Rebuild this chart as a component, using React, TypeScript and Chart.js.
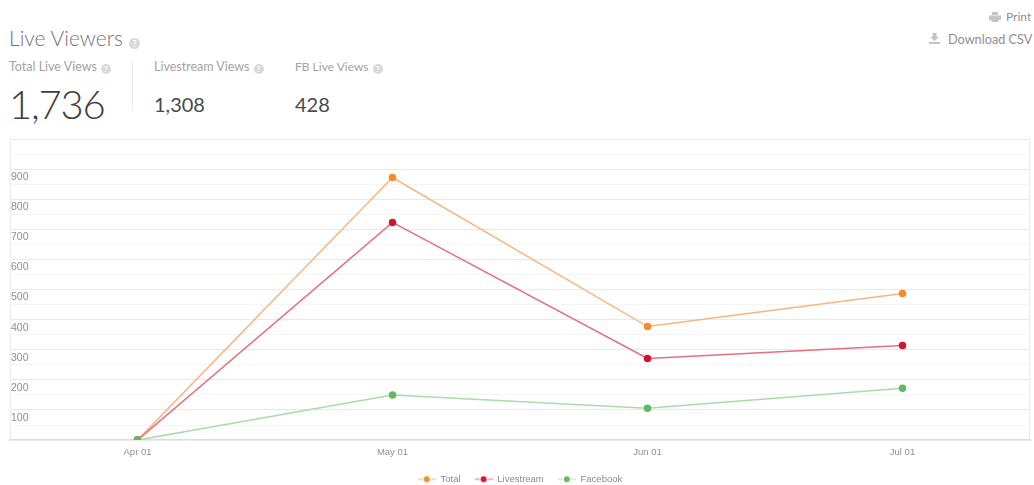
import React, { useEffect, useRef } from "react";
import { Chart, registerables } from "chart.js";

Chart.register(...registerables);

const categories = ["Apr 01", "May 01", "Jun 01", "Jul 01"];
const totalValues = [0, 872, 377, 487];
const livestreamValues = [0, 723, 271, 314];
const facebookValues = [0, 150, 106, 172];
const seriesNames = ["Total", "Livestream", "Facebook"];
const dotColors = ["#f68b2c", "#d2142e", "#62bb62"];
const lineColors = ["#f8b67e", "#e66f7e", "#aadcaa"];

function legendIcon(line: string, dot: string) {
  const c = document.createElement("canvas");
  c.width = 18;
  c.height = 8;
  const x = c.getContext("2d")!;
  x.strokeStyle = line;
  x.lineWidth = 1;
  x.beginPath();
  x.moveTo(0, 4);
  x.lineTo(5, 4);
  x.moveTo(13, 4);
  x.lineTo(18, 4);
  x.stroke();
  x.fillStyle = dot;
  x.beginPath();
  x.arc(9, 4, 3, 0, Math.PI * 2);
  x.fill();
  return c;
}

const plotFrame = {
  id: "plotFrame",
  beforeDatasetsDraw(chart: any) {
    const { left, top, width, height } = chart.chartArea;
    const ctx = chart.ctx;
    ctx.save();
    ctx.strokeStyle = "#ececec";
    ctx.lineWidth = 1;
    ctx.strokeRect(left + 0.5, top + 0.5, width - 1, height);
    ctx.restore();
  },
};

function Help({ size = 10, gap = 4 }: { size?: number; gap?: number }) {
  return (
    <span
      style={{
        display: "inline-block",
        width: size,
        height: size,
        lineHeight: size + "px",
        borderRadius: "50%",
        background: "#d9d9d9",
        color: "#fff",
        fontSize: size - 2,
        fontWeight: 700,
        textAlign: "center",
        marginLeft: gap,
        verticalAlign: "-1px",
      }}
    >
      ?
    </span>
  );
}

const textStyle = (left: number, top: number, size: number, color: string, weight = 400): React.CSSProperties => ({
  position: "absolute",
  left,
  top,
  fontSize: size,
  lineHeight: size + 4 + "px",
  color,
  fontWeight: weight,
  whiteSpace: "nowrap",
});

export default function App() {
  const ref = useRef<HTMLCanvasElement>(null);
  useEffect(() => {
    const series = [totalValues, livestreamValues, facebookValues];
    const chart = new Chart(ref.current!, {
      type: "line",
      data: {
        labels: categories,
        datasets: series.map((data, i) => ({
          label: seriesNames[i],
          data,
          borderColor: lineColors[i],
          backgroundColor: dotColors[i],
          pointBackgroundColor: dotColors[i],
          pointBorderColor: dotColors[i],
          pointRadius: 3,
          borderWidth: 1.5,
          tension: 0,
          fill: false,
          order: 2 - i,
        })),
      },
      options: {
        animation: false,
        responsive: false,
        maintainAspectRatio: false,
        layout: { padding: { left: 10, right: 6, top: 9, bottom: 0 } },
        plugins: {
          tooltip: { enabled: false },
          legend: {
            position: "bottom",
            labels: {
              usePointStyle: true,
              pointStyleWidth: 18,
              boxHeight: 8,
              padding: 14,
              color: "#8a8a8a",
              font: { family: "'Liberation Sans', Arial, sans-serif", size: 9.5 },
              generateLabels: () =>
                seriesNames.map((text, i) => ({
                  text,
                  datasetIndex: i,
                  pointStyle: legendIcon(lineColors[i], dotColors[i]),
                  fontColor: "#8a8a8a",
                  fillStyle: dotColors[i],
                  strokeStyle: dotColors[i],
                  lineWidth: 0,
                })),
            },
          },
        },
        scales: {
          x: {
            offset: true,
            grid: { display: false },
            border: { color: "#dcdcdc", width: 2 },
            afterFit: (s: any) => {
              s.height += 3;
            },
            ticks: {
              color: "#8f8f8f",
              padding: -1,
              maxRotation: 0,
              font: { family: "'Liberation Sans', Arial, sans-serif", size: 9.5 },
            },
          },
          y: {
            min: 0,
            max: 1000,
            border: { display: false },
            grid: {
              drawTicks: false,
              color: (c: any) => (c.tick.value % 100 === 0 ? "#e9e9e9" : "#f5f5f5"),
              lineWidth: 1,
            },
            afterFit: (s: any) => {
              s.width = 0;
            },
            ticks: {
              stepSize: 50,
              mirror: true,
              padding: 1,
              labelOffset: 8,
              autoSkip: false,
              color: "#8f8f8f",
              font: { family: "'Liberation Sans', Arial, sans-serif", size: 10.5 },
              callback: (v: any) => (v > 0 && v < 1000 && v % 100 === 0 ? String(v) : ""),
            },
          },
        },
      },
      plugins: [plotFrame],
    } as any);
    return () => chart.destroy();
  }, []);

  const font = "Lato, 'Open Sans', sans-serif";
  return (
    <div style={{ position: "absolute", left: 0, top: 0, width: 1034, height: 485, overflow: "hidden", background: "#fff", fontFamily: font }}>
      <div style={textStyle(9, 25, 21, "#737373", 300)}>
        Live Viewers<Help size={11} gap={6} />
      </div>
      <div style={textStyle(9, 59, 12.5, "#a3a3a3")}>
        Total Live Views<Help />
      </div>
      <div style={textStyle(154, 59, 12.5, "#a3a3a3")}>
        Livestream Views<Help />
      </div>
      <div style={textStyle(295, 59, 12, "#a3a3a3")}>
        FB Live Views<Help />
      </div>
      <div style={{ ...textStyle(9, 82, 40, "#3f3f3f", 300), letterSpacing: -1.2 }}>1,736</div>
      <div style={textStyle(154, 92, 20, "#4a4a4a")}>1,308</div>
      <div style={textStyle(295, 92, 20, "#4a4a4a")}>428</div>
      <div style={{ position: "absolute", left: 132, top: 60, width: 1, height: 50, background: "#ececec" }} />
      <svg style={{ position: "absolute", left: 989, top: 12 }} width="12" height="10">
        <path d="M3 0h6v3H3zM0 3.5h12V8H9.5v2h-7V8H0z" fill="#c4c4c4" />
      </svg>
      <div style={textStyle(1006, 9, 12, "#8f8f8f")}>Print</div>
      <svg style={{ position: "absolute", left: 929, top: 33 }} width="11" height="11">
        <path d="M3.5 0h4v4H10L5.5 8 1 4h2.5zM0 9h11v2H0z" fill="#c4c4c4" />
      </svg>
      <div style={textStyle(948, 31, 12.7, "#8f8f8f")}>Download CSV</div>
      <canvas ref={ref} width={1036} height={364} style={{ position: "absolute", left: 0, top: 130, display: "block" }} />
    </div>
  );
}
